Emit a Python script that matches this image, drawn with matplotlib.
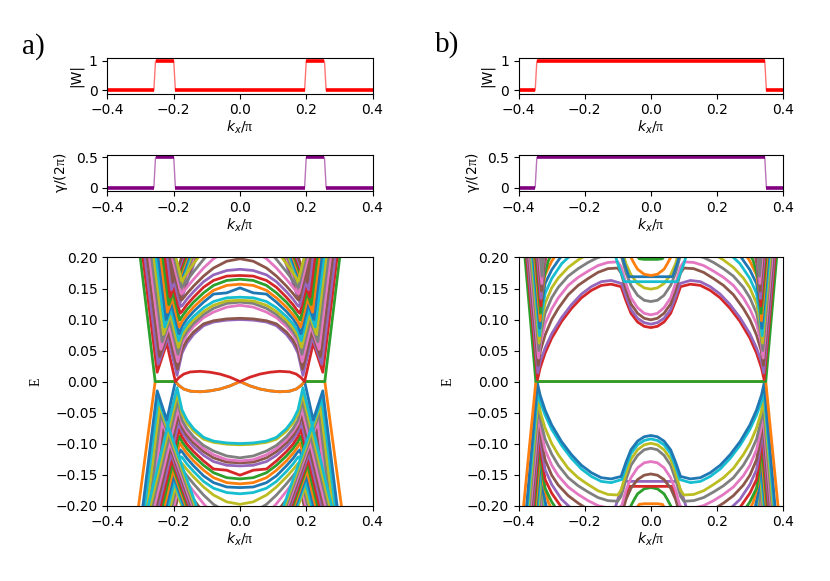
import numpy as np
import matplotlib
matplotlib.use("Agg")
import matplotlib.pyplot as plt

plt.rcParams['font.family'] = ['DejaVu Sans']
plt.rcParams['mathtext.fontset'] = 'custom'
plt.rcParams['mathtext.rm'] = 'Liberation Serif'
plt.rcParams['mathtext.it'] = 'DejaVu Sans:italic'

# ---------------- top panels: winding |W| and Berry phase ----------------
A_W_K = [-0.4, -0.26, -0.255, -0.2, -0.195, 0.195, 0.2, 0.255, 0.26, 0.4]
A_W = [0, 0, 1, 1, 0, 0, 1, 1, 0, 0]
A_G = [0, 0, 0.5, 0.5, 0, 0, 0.5, 0.5, 0, 0]
B_W_K = [-0.4, -0.35, -0.345, 0.345, 0.35, 0.4]
B_W = [0, 0, 1, 1, 0, 0]
B_G = [0, 0, 0.5, 0.5, 0, 0]

# ---------------- panel a spectrum (k>=0, E>=0 quadrant, mirrored) ----------------
A_RED_K = [0, 0.03, 0.06, 0.09, 0.12, 0.15, 0.17, 0.185, 0.195, 0.221, 0.25, 0.293, 0.307]
A_RED_E = [0, 0.007, 0.012, 0.015, 0.0165, 0.0155, 0.012, 0.006, 0.0, 0.062, 0.015, 0.2, 0.26]
A_GREEN_K = [0.195, 0.256, 0.301, 0.315]
A_GREEN_E = [0, 0, 0.2, 0.26]
A_ORANGE_K = [0, 0.03, 0.06, 0.09, 0.12, 0.15, 0.17, 0.185, 0.195, 0.256, 0.306, 0.32]
A_ORANGE_E = [0, -0.007, -0.012, -0.015, -0.0165, -0.0155, -0.012, -0.006, 0, 0, -0.2, -0.26]

A_ELL_K = [0, 0.04, 0.08, 0.11, 0.14, 0.16, 0.175]
A_ELL_E = [
    [0.100, 0.099, 0.096, 0.090, 0.076, 0.062, 0.046],
    [0.102, 0.101, 0.098, 0.093, 0.080, 0.067, 0.052],
    [0.123, 0.120, 0.112, 0.103, 0.089, 0.076, 0.062],
    [0.128, 0.126, 0.118, 0.108, 0.094, 0.081, 0.068],
    [0.131, 0.130, 0.123, 0.113, 0.099, 0.087, 0.074],
    [0.136, 0.135, 0.129, 0.119, 0.105, 0.093, 0.081],
    [0.151, 0.143, 0.141, 0.128, 0.113, 0.101, 0.089],
    [0.157, 0.155, 0.147, 0.135, 0.120, 0.108, 0.097],
    [0.165, 0.163, 0.155, 0.143, 0.128, 0.116, 0.105],
    [0.171, 0.170, 0.163, 0.152, 0.136, 0.124, 0.113],
    [0.181, 0.179, 0.172, 0.161, 0.145, 0.133, 0.122],
    [0.198, 0.194, 0.183, 0.170, 0.154, 0.142, 0.132],
    [0.215, 0.211, 0.198, 0.183, 0.165, 0.152, 0.142],
    [0.235, 0.230, 0.215, 0.197, 0.177, 0.163, 0.152],
    [0.260, 0.252, 0.232, 0.212, 0.190, 0.175, 0.163],
]
A_TIP_K = [0.190, 0.189, 0.188, 0.187, 0.186, 0.185, 0.184, 0.183, 0.182, 0.181, 0.180, 0.179, 0.178, 0.177, 0.176]
A_TIP_E = [0.010, 0.020, 0.032, 0.044, 0.055, 0.066, 0.077, 0.088, 0.099, 0.110, 0.121, 0.132, 0.142, 0.152, 0.162]
A_ARM_K = [0.304, 0.298, 0.292, 0.285, 0.279, 0.273, 0.267, 0.261, 0.255, 0.249, 0.243, 0.237, 0.232, 0.226, 0.221]

A_V_LK = [0.092, 0.096, 0.100, 0.104, 0.108, 0.112, 0.116, 0.120, 0.124, 0.128, 0.132, 0.136]
A_V_BK = [0.247, 0.243, 0.239, 0.235, 0.231, 0.227, 0.223, 0.219, 0.215, 0.211, 0.207, 0.203]
A_V_BE = [0.028, 0.040, 0.052, 0.064, 0.076, 0.088, 0.100, 0.112, 0.124, 0.136, 0.148, 0.160]
A_V_RK = [0.301, 0.294, 0.287, 0.281, 0.274, 0.267, 0.260, 0.253, 0.247, 0.240, 0.233, 0.226]

# ---------------- panel b spectrum (k>=0, E>=0 quadrant, mirrored) ----------------
B_GREEN_K = [0, 0.348, 0.381, 0.391]
B_GREEN_E = [0, 0, 0.2, 0.26]
B_ORANGE_K = [0, 0.348, 0.385, 0.395]
B_ORANGE_E = [0, 0, -0.2, -0.26]

B_K = [
    [0, 0.02, 0.04, 0.06, 0.075, 0.09, 0.12, 0.15, 0.18, 0.21, 0.24, 0.27, 0.3, 0.32, 0.335, 0.343, 0.386],
    [0, 0.02, 0.04, 0.06, 0.075, 0.088, 0.12, 0.15, 0.18, 0.21, 0.24, 0.27, 0.3, 0.32, 0.335, 0.342, 0.383],
    [0, 0.02, 0.04, 0.06, 0.075, 0.09, 0.1, 0.13, 0.16, 0.19, 0.22, 0.25, 0.28, 0.3, 0.32, 0.334, 0.341, 0.380],
    [0, 0.02, 0.04, 0.06, 0.075, 0.09, 0.1, 0.13, 0.16, 0.19, 0.22, 0.25, 0.28, 0.3, 0.32, 0.333, 0.340, 0.377],
    [0, 0.02, 0.04, 0.06, 0.075, 0.088, 0.1, 0.13, 0.16, 0.19, 0.22, 0.25, 0.28, 0.3, 0.32, 0.332, 0.339, 0.374],
    [0, 0.02, 0.04, 0.06, 0.075, 0.085, 0.1, 0.13, 0.16, 0.19, 0.22, 0.25, 0.28, 0.3, 0.32, 0.331, 0.338, 0.371],
    [0, 0.04, 0.08, 0.1, 0.12, 0.16, 0.2, 0.24, 0.27, 0.3, 0.32, 0.33, 0.337, 0.368],
    [0, 0.04, 0.066, 0.08, 0.1, 0.16, 0.2, 0.24, 0.27, 0.3, 0.32, 0.33, 0.336, 0.365],
    [0, 0.02, 0.04, 0.05, 0.06, 0.08, 0.16, 0.24, 0.28, 0.3, 0.32, 0.33, 0.335, 0.362],
    [0, 0.02, 0.035, 0.05, 0.07, 0.16, 0.24, 0.29, 0.31, 0.325, 0.334, 0.359],
    [0, 0.16, 0.26, 0.3, 0.315, 0.325, 0.333, 0.356],
    [0, 0.16, 0.28, 0.31, 0.32, 0.332, 0.353],
    [0, 0.2, 0.3, 0.32, 0.331, 0.350],
    [0, 0.2, 0.31, 0.325, 0.330, 0.347],
    [0, 0.2, 0.315, 0.325, 0.329, 0.344],
]
B_E = [
    [0.087, 0.089, 0.096, 0.110, 0.130, 0.153, 0.157, 0.155, 0.147, 0.135, 0.118, 0.097, 0.070, 0.046, 0.022, 0.003, 0.26],
    [0.0925, 0.095, 0.102, 0.116, 0.137, 0.158, 0.163, 0.161, 0.153, 0.141, 0.124, 0.103, 0.077, 0.054, 0.032, 0.014, 0.26],
    [0.0995, 0.102, 0.110, 0.125, 0.148, 0.175, 0.183, 0.182, 0.176, 0.166, 0.155, 0.140, 0.118, 0.100, 0.075, 0.050, 0.026, 0.26],
    [0.1075, 0.110, 0.119, 0.135, 0.158, 0.185, 0.193, 0.192, 0.187, 0.178, 0.168, 0.155, 0.135, 0.117, 0.093, 0.065, 0.038, 0.26],
    [0.129, 0.131, 0.139, 0.155, 0.175, 0.200, 0.205, 0.204, 0.200, 0.192, 0.182, 0.170, 0.152, 0.135, 0.110, 0.080, 0.050, 0.26],
    [0.149, 0.151, 0.158, 0.172, 0.190, 0.208, 0.218, 0.218, 0.214, 0.206, 0.196, 0.184, 0.167, 0.151, 0.126, 0.095, 0.062, 0.26],
    [0.161, 0.161, 0.161, 0.190, 0.225, 0.228, 0.220, 0.205, 0.190, 0.166, 0.142, 0.110, 0.074, 0.26],
    [0.169, 0.169, 0.169, 0.190, 0.230, 0.240, 0.232, 0.218, 0.203, 0.180, 0.158, 0.124, 0.086, 0.26],
    [0.171, 0.173, 0.181, 0.190, 0.200, 0.240, 0.250, 0.230, 0.210, 0.194, 0.172, 0.138, 0.098, 0.26],
    [0.197, 0.197, 0.198, 0.210, 0.240, 0.260, 0.240, 0.215, 0.195, 0.165, 0.110, 0.26],
    [0.22, 0.27, 0.25, 0.225, 0.205, 0.18, 0.122, 0.26],
    [0.23, 0.28, 0.25, 0.22, 0.2, 0.134, 0.26],
    [0.24, 0.29, 0.24, 0.21, 0.146, 0.26],
    [0.25, 0.3, 0.24, 0.205, 0.158, 0.26],
    [0.26, 0.31, 0.24, 0.21, 0.17, 0.26],
]

XTICKS = [-0.4, -0.2, 0.0, 0.2, 0.4]
ETICKS = [-0.2, -0.15, -0.1, -0.05, 0.0, 0.05, 0.1, 0.15, 0.2]
C = ['C%d' % i for i in range(10)]
LW = 2.0
KLABEL = r'$k_x$/$\mathrm{\pi}$'


def plot_sym(ax, k, e, color, sign=1, lw=LW):
    k = np.asarray(k, float)
    e = sign * np.asarray(e, float)
    if k[0] == 0:
        ax.plot(np.concatenate([-k[::-1], k[1:]]), np.concatenate([e[::-1], e[1:]]),
                color=color, lw=lw)
    else:
        ax.plot(k, e, color=color, lw=lw)
        ax.plot(-k, e, color=color, lw=lw)


def small_panel(ax, k, v, color, yt, ytl, ylim, ylabel):
    ax.plot(k, v, color=color, lw=1.0, alpha=0.55)
    for i in range(len(k) - 1):
        if v[i] == v[i + 1]:
            ax.plot(k[i:i + 2], v[i:i + 2], color=color, lw=2.6, solid_capstyle='butt')
    ax.set_xlim(-0.4, 0.4)
    ax.set_ylim(*ylim)
    ax.set_yticks(yt)
    ax.set_yticklabels(ytl)
    ax.set_xticks(XTICKS)
    ax.set_xlabel(KLABEL, labelpad=1)
    ax.set_ylabel(ylabel)


fig = plt.figure(figsize=(8.3, 5.81), dpi=100)

colx = [0.1295, 0.6249]
colw = [0.3193, 0.3184]
for c, (Wk, Wv, Gv) in enumerate([(A_W_K, A_W, A_G), (B_W_K, B_W, B_G)]):
    ax1 = fig.add_axes([colx[c], 0.8387, colw[c], 0.0614])
    small_panel(ax1, Wk, Wv, 'red', [0, 1], ['0', '1'], (-0.11, 1.1), '|W|')
    ax2 = fig.add_axes([colx[c], 0.6704, colw[c], 0.0628])
    small_panel(ax2, Wk, Gv, 'purple', [0, 0.5], ['0', '0.5'], (-0.065, 0.54),
                r'γ/(2$\mathrm{\pi}$)')

# ---- panel a spectrum ----
axA = fig.add_axes([colx[0], 0.1298, colw[0], 0.427])
nA = len(A_ELL_E)
nV = len(A_V_BK)
for n in reversed(range(max(nA, nV))):
    col = C[(9 - n) % 10]
    if n < nA:
        plot_sym(axA, A_ELL_K + [A_TIP_K[n], A_ARM_K[n]], A_ELL_E[n] + [A_TIP_E[n], 0.26], col, -1)
    if n < nV:
        plot_sym(axA, [A_V_LK[n], A_V_BK[n], A_V_RK[n]], [0.26, A_V_BE[n], 0.26], col, -1)
plot_sym(axA, A_RED_K, A_RED_E, 'C0', -1)
plot_sym(axA, A_ORANGE_K, A_ORANGE_E, 'C1')
plot_sym(axA, A_GREEN_K, A_GREEN_E, 'C2')
plot_sym(axA, A_RED_K, A_RED_E, 'C3')
for n in range(max(nA, nV)):
    col = C[(4 + n) % 10]
    if n < nA:
        plot_sym(axA, A_ELL_K + [A_TIP_K[n], A_ARM_K[n]], A_ELL_E[n] + [A_TIP_E[n], 0.26], col, 1)
    if n < nV:
        plot_sym(axA, [A_V_LK[n], A_V_BK[n], A_V_RK[n]], [0.26, A_V_BE[n], 0.26], col, 1)

# ---- panel b spectrum ----
axB = fig.add_axes([colx[1], 0.1298, colw[1], 0.427])
nB = len(B_K)
for n in reversed(range(nB)):
    plot_sym(axB, B_K[n], B_E[n], C[(10 - n) % 10], -1)
plot_sym(axB, B_ORANGE_K, B_ORANGE_E, 'C1')
plot_sym(axB, B_GREEN_K, B_GREEN_E, 'C2')
for n in range(nB):
    plot_sym(axB, B_K[n], B_E[n], C[(3 + n) % 10], 1)

for ax in (axA, axB):
    ax.set_xlim(-0.4, 0.4)
    ax.set_ylim(-0.2, 0.2)
    ax.set_xticks(XTICKS)
    ax.set_yticks(ETICKS)
    ax.set_xlabel(KLABEL, labelpad=1)
    ax.set_ylabel('E', family='Liberation Serif', fontsize=10, labelpad=9)

fig.text(0.027, 0.908, 'a)', family='Liberation Serif', fontsize=21, va='baseline')
fig.text(0.524, 0.911, 'b)', family='Liberation Serif', fontsize=21, va='baseline')

fig.savefig('out.png', dpi=100)
